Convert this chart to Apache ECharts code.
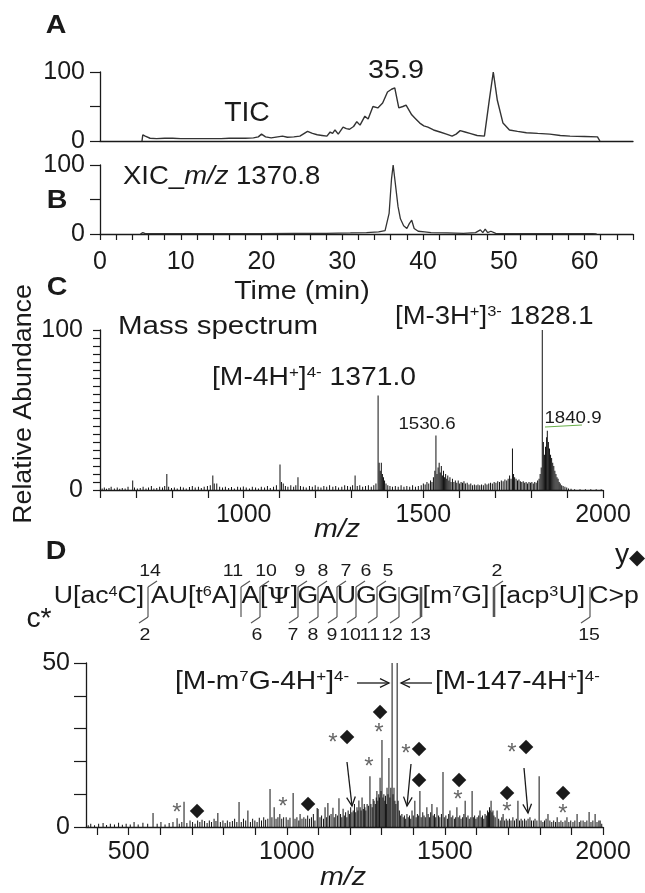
<!DOCTYPE html>
<html>
<head>
<meta charset="utf-8">
<title>LC-MS of tRNA fragment</title>
<script src="https://cdn.jsdelivr.net/npm/echarts@6/dist/echarts.min.js"></script>
<style>
  html, body { margin: 0; padding: 0; background: #fff; }
  #chart { width: 645px; height: 893px; }
</style>
</head>
<body>
<div id="chart"></div>
<script>
// A: total ion chromatogram, [time (min), relative abundance]
const ticData = [
  [5.2, 0], [5.3, 9], [5.6, 7], [6.2, 4], [7, 3.5], [8, 4], [9, 4], [10, 3.5], [11, 3.5], [12, 3.5],
  [13, 3.5], [14, 3.5], [15, 3.5], [16, 4], [17, 4], [18, 4], [19, 4.5], [19.6, 6], [20, 10], [20.5, 6],
  [21.2, 4.5], [22, 6], [22.6, 7], [23.2, 5.5], [24, 6], [24.75, 7], [25.7, 14], [26.3, 11], [26.9, 9], [27.5, 8],
  [28.1, 7], [28.5, 13], [28.8, 11], [29.1, 16], [29.5, 10], [30.1, 20], [30.5, 18], [30.9, 17], [31.4, 21], [31.8, 28],
  [32.2, 23], [32.8, 36], [33.2, 32], [33.8, 50], [34.4, 48], [35.0, 55], [35.6, 71], [36.1, 75], [36.5, 77], [37.0, 48],
  [37.5, 50], [37.9, 52], [38.6, 38], [39.1, 32], [39.6, 26], [40.1, 22], [40.6, 20], [41.3, 16], [42.1, 13], [42.9, 10],
  [43.6, 7], [44.1, 10], [44.6, 15], [45.2, 13], [45.8, 11], [46.7, 8], [47.6, 7], [48.2, 59], [48.7, 100], [49.2, 59],
  [49.9, 26], [50.7, 16], [51.7, 14], [52.8, 12], [54.2, 11], [55.7, 10], [57, 8], [58.2, 7], [60, 6.5], [61.6, 6], [61.9, 0]
]

// B: extracted ion chromatogram m/z 1370.8
const xicData = [
  [5, 0], [5.3, 2], [5.6, 0.5], [8, 0.5], [12, 0.5], [16, 0.5], [20, 0.5], [24, 1], [28, 1], [31, 1.5],
  [33, 2], [34.5, 3], [35.3, 5], [35.8, 30], [36.1, 80], [36.3, 100], [36.6, 70], [36.9, 40], [37.2, 22], [37.6, 12],
  [38.0, 8], [38.3, 15], [38.6, 20], [38.9, 8], [39.4, 4], [40.2, 3], [41, 2], [43, 1.5], [45, 1], [46.5, 2],
  [47.1, 6], [47.4, 2], [47.7, 7], [48, 2], [48.4, 4], [49, 1], [52, 0.5], [56, 0.5], [61, 0.5], [61.5, 0]
]

// C: full mass spectrum, [m/z, relative abundance]
const msData = [
  [606, 1], [612, 1.5], [618, 0.8], [625, 1.2], [631, 2], [640, 1], [648, 1.5], [655, 0.8], [662, 1.3], [670, 1],
  [678, 2], [691, 6], [696, 1.5], [704, 1], [712, 1.2], [720, 2], [728, 1], [735, 1.5], [743, 2.5], [750, 1],
  [758, 1.3], [766, 2], [774, 1.5], [780, 2.5], [786, 10], [791, 2], [799, 1.3], [807, 1.5], [815, 1], [824, 2],
  [832, 1.5], [840, 1], [849, 1.8], [857, 2.5], [865, 1.5], [874, 2], [882, 1.2], [890, 2], [899, 2.5], [907, 3],
  [914, 9], [918, 4], [925, 4], [933, 2], [941, 1.5], [949, 2], [958, 1.2], [966, 1.8], [974, 1], [983, 2],
  [991, 1.5], [999, 2.2], [1007, 1.5], [1016, 1], [1024, 2], [1033, 1.5], [1041, 1], [1049, 2], [1058, 1.5], [1066, 2.5],
  [1074, 1.2], [1083, 2], [1091, 3], [1101, 16], [1105, 5], [1110, 4], [1116, 2.5], [1123, 2], [1131, 3], [1139, 2],
  [1145, 3], [1151, 8], [1158, 2.5], [1166, 2], [1174, 1.5], [1183, 2.5], [1191, 2], [1199, 3], [1207, 2], [1215, 1.5],
  [1223, 2.5], [1231, 2], [1239, 3], [1248, 2], [1256, 2.5], [1264, 1.5], [1273, 2], [1281, 3], [1289, 2.5], [1297, 2],
  [1303, 3], [1310, 9], [1316, 2.5], [1323, 3], [1331, 2], [1339, 2.5], [1347, 3], [1355, 2], [1362, 3], [1368, 4],
  [1374, 59], [1377, 17], [1380, 12], [1383, 17], [1386, 10], [1389, 8], [1392, 6], [1396, 4], [1401, 3], [1407, 2.5],
  [1414, 2], [1422, 2.5], [1430, 2], [1438, 3], [1446, 2], [1454, 2.5], [1462, 2], [1470, 3], [1478, 2], [1486, 2.5],
  [1494, 3], [1500, 4], [1505, 3.5], [1510, 5], [1515, 4], [1520, 6], [1524, 5], [1528, 8], [1532, 12], [1535, 34],
  [1538, 10], [1541, 14], [1544, 17], [1547, 11], [1550, 15], [1553, 9], [1556, 12], [1559, 8], [1562, 10], [1565, 7],
  [1568, 9], [1571, 6], [1574, 8], [1577, 5], [1581, 7], [1585, 5], [1589, 6], [1593, 4.5], [1597, 6], [1601, 4],
  [1605, 5], [1609, 4.5], [1613, 5.5], [1617, 4], [1622, 4.5], [1627, 3.5], [1632, 4], [1637, 3], [1642, 3.5], [1647, 3],
  [1652, 3.5], [1657, 3], [1662, 3.5], [1667, 3], [1672, 4], [1677, 3.5], [1682, 4], [1687, 4.5], [1692, 4], [1697, 5],
  [1702, 4.5], [1707, 5.5], [1712, 5], [1717, 6], [1722, 5.5], [1727, 6.5], [1732, 6], [1736, 7], [1740, 9], [1744, 7],
  [1748, 26], [1751, 10], [1754, 8], [1758, 7], [1762, 6], [1766, 6.5], [1770, 5.5], [1774, 5], [1778, 5.5], [1782, 4.5],
  [1786, 5], [1790, 4], [1794, 5], [1798, 4.5], [1802, 5], [1806, 4], [1810, 5], [1814, 4.5], [1818, 6], [1822, 7],
  [1825, 10], [1828, 14], [1831, 100], [1834, 30], [1837, 22], [1840, 27], [1843, 33], [1845, 37], [1848, 30], [1851, 26],
  [1854, 22], [1857, 20], [1860, 17], [1863, 15], [1866, 12], [1869, 10], [1872, 8], [1875, 7], [1878, 5], [1881, 4],
  [1885, 3], [1889, 2.5], [1894, 2], [1899, 1.5], [1904, 1], [1911, 0.8], [1921, 0.5], [1936, 0.5], [1951, 0.5], [1966, 0.5],
  [1981, 0.5], [1995, 0.5]
]

// D: tandem MS spectrum, [m/z, relative abundance]
const msmsData = [
  [372, 0.5], [380, 1], [392, 0.5], [405, 1], [419, 1.2], [430, 0.6], [442, 1], [455, 0.8], [468, 1.3], [480, 0.7],
  [492, 1], [505, 0.8], [517, 1.5], [530, 0.8], [545, 1.3], [560, 1], [577, 4.3], [590, 1], [602, 1.5], [615, 0.8],
  [628, 1.2], [640, 1.5], [653, 2.7], [660, 1], [668, 1.5], [675, 7.7], [684, 1.2], [694, 2], [702, 1.5], [710, 1],
  [718, 2], [725, 1.5], [732, 2.2], [740, 1.8], [748, 1.2], [755, 2], [762, 1.5], [770, 2.5], [776, 1.8], [782, 4.3],
  [790, 1.5], [798, 2], [805, 1.2], [812, 2], [820, 1.5], [828, 1.8], [835, 2.5], [842, 1.5], [849, 7.6], [856, 1.5],
  [863, 2.5], [870, 2], [877, 5], [885, 1.5], [892, 2.5], [899, 2], [906, 1.5], [913, 2.8], [920, 2], [927, 3],
  [933, 2.2], [940, 2.5], [947, 11.6], [953, 3], [960, 6], [966, 2.5], [972, 3], [978, 4], [984, 2.5], [990, 3],
  [998, 3], [1004, 2.2], [1010, 2.8], [1020, 10.4], [1026, 2.5], [1032, 3], [1038, 2], [1042, 4], [1048, 2.5], [1054, 3],
  [1060, 2.5], [1066, 3.5], [1072, 2.5], [1078, 3], [1084, 4], [1089, 2], [1096, 5.8], [1099, 5.5], [1105, 3], [1110, 3.5],
  [1116, 2.5], [1121, 6], [1126, 3], [1130, 7.3], [1135, 3.5], [1140, 4], [1146, 5.9], [1150, 3], [1155, 4], [1160, 3.5],
  [1165, 8.8], [1170, 4], [1174, 3], [1178, 5.6], [1182, 3.5], [1186, 4.5], [1190, 3], [1194, 5], [1198, 4], [1202, 6],
  [1206, 4.5], [1210, 5], [1214, 7], [1218, 4.5], [1222, 6], [1225, 5], [1228, 8.1], [1232, 6], [1235, 5], [1238, 9],
  [1242, 5.5], [1245, 7], [1247, 6], [1250, 5], [1254, 7], [1258, 6.5], [1263, 15.5], [1266, 7], [1270, 6], [1273, 8.5],
  [1276, 8], [1280, 7], [1283, 9], [1285, 11], [1288, 8], [1291, 10], [1293, 9], [1295, 15], [1298, 11], [1301, 26.5],
  [1304, 9], [1307, 10], [1310, 8], [1312, 9.5], [1315, 7], [1317, 12], [1320, 10], [1323, 21], [1326, 9], [1329, 12],
  [1333, 50], [1336, 10], [1339, 12], [1342, 8], [1345, 7], [1349, 50], [1352, 8], [1356, 5], [1360, 3.5], [1364, 4],
  [1368, 3], [1372, 3.5], [1376, 2.5], [1380, 4], [1384, 3], [1388, 3.5], [1392, 2.5], [1396, 5], [1400, 3.5], [1405, 8],
  [1409, 3], [1413, 4], [1417, 3.5], [1421, 11], [1425, 3], [1430, 4.5], [1434, 3.5], [1438, 3], [1443, 6], [1447, 4],
  [1451, 3], [1455, 4.5], [1459, 7], [1463, 3.5], [1467, 4], [1471, 3], [1475, 6], [1480, 3.5], [1484, 3], [1489, 4],
  [1494, 16.8], [1498, 3], [1503, 3.5], [1508, 2.5], [1512, 4], [1516, 5], [1520, 3], [1525, 3.5], [1530, 2.5], [1534, 3],
  [1538, 6], [1542, 3], [1547, 3.5], [1551, 2.5], [1556, 3], [1560, 4], [1564, 8], [1568, 3], [1573, 3.5], [1577, 2.5],
  [1582, 3], [1586, 11], [1590, 3], [1594, 3.5], [1598, 2.5], [1602, 3], [1607, 3.5], [1611, 5], [1615, 3], [1619, 3.5],
  [1623, 2.5], [1627, 4], [1631, 3.5], [1635, 5], [1638, 4.5], [1641, 6], [1643, 5], [1646, 8], [1649, 4.5], [1652, 5],
  [1655, 3.5], [1659, 3], [1665, 5], [1670, 2.5], [1675, 2], [1680, 3], [1684, 4], [1689, 2], [1694, 2.5], [1699, 2],
  [1704, 2.5], [1709, 2], [1715, 3], [1720, 2], [1726, 2.5], [1731, 8], [1736, 2], [1741, 2.5], [1746, 2], [1752, 2.5],
  [1757, 2], [1763, 2.5], [1769, 3], [1774, 2], [1780, 2], [1785, 2.5], [1791, 2], [1798, 15.5], [1804, 2], [1810, 1.5],
  [1815, 2], [1820, 2.5], [1826, 4], [1832, 2], [1838, 1.5], [1844, 2], [1850, 1.5], [1855, 3], [1861, 1.5], [1867, 2],
  [1873, 1.5], [1880, 2], [1886, 3], [1892, 1.5], [1898, 2], [1905, 1.5], [1911, 2], [1918, 4], [1925, 1.5], [1930, 2],
  [1937, 2], [1943, 1.5], [1949, 2], [1956, 4.6], [1962, 1.5], [1968, 2], [1975, 4], [1981, 1.5], [1987, 2], [1991, 2], [1996, 1]
]

// tick labels
const timeLabels = [0, 10, 20, 30, 40, 50, 60]
const abundLabels = [0, 100]
const mzLabelsC = [1000, 1500, 2000]
const mzTicksD = [400, 500, 600, 700, 800, 900, 1000, 1100, 1200, 1300, 1400, 1500, 1600, 1700, 1800, 1900, 2000]
const mzLabelsD = [500, 1000, 1500, 2000]

const INK = '#1a1a1a'
const FONT = '"Liberation Sans", Arial, sans-serif'
const SX = 1.15

function axis(grid, o) {
  const base = {
    type: 'value',
    gridIndex: grid,
    splitLine: { show: false },
    axisLine: { show: true, onZero: false, lineStyle: { color: INK, width: 1.3 } },
    axisTick: { show: true, lineStyle: { color: INK, width: 1.2 } },
    axisLabel: { color: INK, fontFamily: FONT, fontSize: 25 }
  }
  Object.keys(o).forEach(k => {
    if (base[k] && typeof base[k] === 'object' && typeof o[k] === 'object') {
      base[k] = Object.assign({}, base[k], o[k])
    } else {
      base[k] = o[k]
    }
  })
  return base
}

function rich(size) {
  const s = Math.round(size * 0.6)
  return {
    s: { fontSize: s, lineHeight: s, fontFamily: FONT, fill: INK, verticalAlign: 'top' },
    i: { fontSize: size, fontFamily: FONT, fill: INK, fontStyle: 'italic' },
    p: { fontSize: size, fontFamily: '"DejaVu Serif", serif', fill: INK }
  }
}

function txt(x, y, text, size, o) {
  o = o || {}
  return {
    type: 'text',
    x: x,
    y: y,
    scaleX: o.sx || SX,
    rotation: o.rot || 0,
    z: 100,
    style: {
      text: text,
      fontSize: size,
      fontFamily: o.family || FONT,
      fontWeight: o.bold ? 'bold' : 'normal',
      fontStyle: o.italic ? 'italic' : 'normal',
      fill: o.color || INK,
      align: o.align || 'center',
      verticalAlign: 'middle',
      rich: rich(size)
    }
  }
}

function seg(x1, y1, x2, y2, w, c) {
  return { type: 'line', z: 100, shape: { x1, y1, x2, y2 }, style: { stroke: c || INK, lineWidth: w || 1.3 } }
}

function arrow(x1, y1, x2, y2) {
  const a = Math.atan2(y2 - y1, x2 - x1)
  const L = 10
  const w = 0.45
  return [
    seg(x1, y1, x2, y2),
    {
      type: 'polyline', z: 100,
      shape: { points: [
        [x2 - L * Math.cos(a - w), y2 - L * Math.sin(a - w)],
        [x2, y2],
        [x2 - L * Math.cos(a + w), y2 - L * Math.sin(a + w)]
      ] },
      style: { stroke: INK, lineWidth: 1.3, fill: null }
    }
  ]
}

// sequence with c / y cleavage marks
const residues = [
  [99, 'U[ac{s|4}C]'], [194, 'AU[t{s|6}A]'], [250.5, 'A'], [279, '[{p|Ψ}]'],
  [308, 'G'], [327.5, 'A'], [346.5, 'U'], [366.5, 'G'], [388, 'G'], [410, 'G'],
  [456, '[m{s|7}G]'], [542, '[acp{s|3}U]'], [614, 'C>p']
]
const cuts = [
  { x: 148, top: '14', tx: 150, bot: '2', bx: 145 },
  { x: 241, top: '11', tx: 233 },
  { x: 260, top: '10', tx: 266, bot: '6', bx: 257 },
  { x: 298, top: '9', tx: 300, bot: '7', bx: 293 },
  { x: 318, top: '8', tx: 323, bot: '8', bx: 313 },
  { x: 337, top: '7', tx: 346, bot: '9', bx: 332 },
  { x: 356, top: '6', tx: 366, bot: '10', bx: 350 },
  { x: 377, top: '5', tx: 388, bot: '11', bx: 370 },
  { x: 399, bot: '12', bx: 392 },
  { x: 421, bot: '13', bx: 420, heavy: true },
  { x: 494, top: '2', tx: 497, heavy: true },
  { x: 590, bot: '15', bx: 589 }
]

const graphics = []
// panel letters
graphics.push(txt(56, 26, 'A', 26, { bold: true, sx: 1.1 }))
graphics.push(txt(57, 201, 'B', 26, { bold: true, sx: 1.1 }))
graphics.push(txt(57, 288, 'C', 26, { bold: true, sx: 1.1 }))
graphics.push(txt(56, 552, 'D', 26, { bold: true, sx: 1.1 }))
// A / B
graphics.push(txt(396, 71, '35.9', 25))
graphics.push(txt(247, 114, 'TIC', 27, { sx: 1.05 }))
graphics.push(txt(123, 177, 'XIC_{i|m/z} 1370.8', 25, { align: 'left', sx: 1.1 }))
graphics.push(txt(302, 292, 'Time (min)', 26, { sx: 1.1 }))
// C
graphics.push(txt(24, 404, 'Relative Abundance', 26, { rot: Math.PI / 2, sx: 1.03 }))
graphics.push(txt(118, 327, 'Mass spectrum', 25, { align: 'left', sx: 1.18 }))
graphics.push(txt(395, 317, '[M-3H{s|+}]{s|3-} 1828.1', 25, { align: 'left', sx: 1.1 }))
graphics.push(txt(212, 378, '[M-4H{s|+}]{s|4-} 1371.0', 25, { align: 'left', sx: 1.13 }))
graphics.push(txt(427, 424, '1530.6', 17, { sx: 1.1 }))
graphics.push(txt(573, 418, '1840.9', 17, { sx: 1.1 }))
graphics.push(seg(545, 427, 582, 425, 1.2, '#6ab04c'))
graphics.push(txt(337, 530, 'm/z', 26, { italic: true, sx: 1.1 }))
graphics.push(txt(343, 878, 'm/z', 26, { italic: true, sx: 1.1 }))
// D sequence
residues.forEach(r => graphics.push(txt(r[0], 597, r[1], 23, { sx: 1.16 })))
cuts.forEach(c => {
  const w = c.heavy ? 2.6 : 1.2
  graphics.push(seg(c.x, 587, c.x, 617, w, '#555'))
  if (c.top) {
    graphics.push(seg(c.x, 587, c.x + 9, 581, 1.2, '#555'))
    graphics.push(txt(c.tx, 571, c.top, 17))
  }
  if (c.bot) {
    graphics.push(seg(c.x, 617, c.x - 9, 623, 1.2, '#555'))
    graphics.push(txt(c.bx, 635, c.bot, 17))
  }
})
graphics.push(txt(622, 556, 'y', 27, { sx: 1.05 }))
graphics.push(txt(637, 559, '◆', 21, { family: '"DejaVu Sans"', sx: 1 }))
graphics.push(txt(39, 620, 'c*', 27, { sx: 1.05 }))
// D ion labels
graphics.push(txt(175, 682, '[M-m{s|7}G-4H{s|+}]{s|4-}', 25, { align: 'left', sx: 1.13 }))
graphics.push(txt(435, 682, '[M-147-4H{s|+}]{s|4-}', 25, { align: 'left', sx: 1.12 }))
arrow(357, 683, 389, 683).forEach(g => graphics.push(g))
arrow(432, 683, 401, 683).forEach(g => graphics.push(g))
arrow(347, 762, 352, 806).forEach(g => graphics.push(g))
arrow(411, 764, 407, 806).forEach(g => graphics.push(g))
arrow(524, 768, 528, 813).forEach(g => graphics.push(g))
// fragment markers: * = c ions, diamond = y ions
const stars = [[177, 808], [283, 802], [333, 738], [369, 762], [379, 728], [406, 749], [458, 795], [507, 807], [512, 748], [563, 809]]
const diamonds = [[197, 811], [308, 804], [347, 737], [380, 712], [419, 749], [419, 780], [459, 780], [507, 793], [526, 747], [563, 793]]
stars.forEach(p => graphics.push(txt(p[0], p[1] + 5, '*', 24, { color: '#666', sx: 1 })))
diamonds.forEach(p => graphics.push(txt(p[0], p[1], '◆', 19, { family: '"DejaVu Sans"', sx: 1 })))

const chart = echarts.init(document.getElementById('chart'))
const option = {
  animation: false,
  backgroundColor: '#fff',
  grid: [
    { left: 100, top: 72, width: 533, height: 69 },
    { left: 100, top: 165, width: 533, height: 69 },
    { left: 100, top: 330, width: 503, height: 160 },
    { left: 86, top: 663, width: 517, height: 164 }
  ],
  xAxis: [
    axis(0, { min: 0, max: 66, axisTick: { show: false }, axisLabel: { show: false } }),
    axis(1, {
      min: 0, max: 66, interval: 2,
      axisTick: { length: 6 },
      axisLabel: { margin: 16, formatter: v => (timeLabels.indexOf(v) >= 0 ? String(v) : '') }
    }),
    axis(2, {
      min: 600, max: 2000, interval: 100,
      axisTick: { length: 8 },
      axisLabel: { margin: 13, formatter: v => (mzLabelsC.indexOf(v) >= 0 ? String(v) : '') }
    }),
    axis(3, {
      min: 365, max: 2000,
      axisTick: { length: 8, customValues: mzTicksD },
      axisLabel: { margin: 13, customValues: mzLabelsD, formatter: v => String(v) }
    })
  ],
  yAxis: [
    axis(0, { min: 0, max: 100, interval: 50, axisTick: { length: 10 }, axisLabel: { margin: 15, formatter: v => (v === 50 ? '' : String(v)) } }),
    axis(1, { min: 0, max: 100, interval: 50, axisTick: { length: 10 }, axisLabel: { margin: 15, formatter: v => (v === 50 ? '' : String(v)) } }),
    axis(2, {
      min: 0, max: 100, interval: 5,
      axisTick: { length: 7 },
      axisLabel: { margin: 17, formatter: v => (abundLabels.indexOf(v) >= 0 ? String(v) : '') }
    }),
    axis(3, { min: 0, max: 50, interval: 10, axisTick: { length: 12 }, axisLabel: { margin: 16, formatter: v => (v % 50 === 0 ? String(v) : '') } })
  ],
  series: [
    {
      type: 'line', xAxisIndex: 0, yAxisIndex: 0, data: ticData,
      showSymbol: false, lineStyle: { color: '#333', width: 1.4 }
    },
    {
      type: 'line', xAxisIndex: 1, yAxisIndex: 1, data: xicData,
      showSymbol: false, lineStyle: { color: '#333', width: 1.3 }
    },
    {
      type: 'bar', xAxisIndex: 2, yAxisIndex: 2, data: msData,
      barWidth: 1, itemStyle: { color: '#111' }
    },
    {
      type: 'bar', xAxisIndex: 3, yAxisIndex: 3, data: msmsData,
      barWidth: 1, itemStyle: { color: '#111' }
    }
  ],
  graphic: graphics
}
chart.setOption(option)
</script>
</body>
</html>
